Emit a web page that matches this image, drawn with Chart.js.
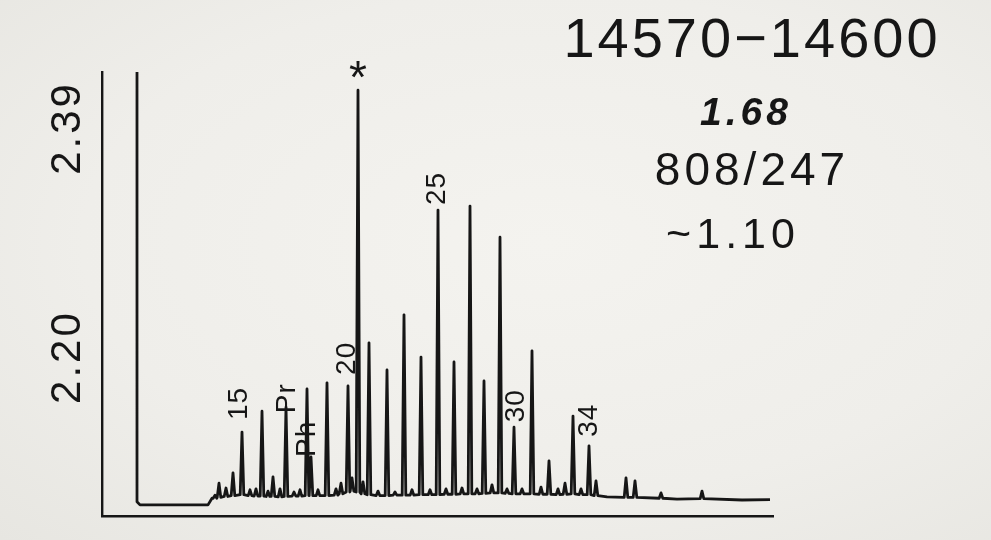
<!DOCTYPE html>
<html>
<head>
<meta charset="utf-8">
<script src="https://cdn.jsdelivr.net/npm/chart.js@4.4.1/dist/chart.umd.min.js"></script>
<style>
  html, body { margin: 0; padding: 0; }
  body {
    width: 991px; height: 540px; overflow: hidden;
    background: radial-gradient(ellipse at 55% 45%, #f4f3ef 0%, #efeeea 60%, #e7e6e1 100%);
  }
  canvas { display: block; }
</style>
</head>
<body>
<canvas id="chromatogram" width="991" height="540"></canvas>
<script>
// Peaks: retention position (chart units), apex and foot signal (0-100)
const peakTimes = [
  11.3, 11.7, 12.4, 13.1, 14.0, 14.8, 15.4, 16.0, 16.6, 17.1,
  17.8, 18.4, 19.2, 19.8, 20.5, 20.9, 21.6, 22.5, 23.4, 23.9,
  24.6, 25.0, 25.6, 26.1, 26.7, 27.6, 28.5, 29.3, 30.2, 31.0,
  31.9, 32.8, 33.6, 34.4, 35.2, 36.0, 36.8, 37.5, 38.2, 39.0,
  39.8, 40.5, 41.2, 42.0, 43.0, 43.9, 44.7, 45.6, 46.3, 47.1,
  47.9, 48.7, 49.4, 52.4, 53.3, 55.9, 60.0
];
const peakHeights = [
  4.7, 7.4, 6.3, 9.7, 18.9, 5.9, 6.1, 23.6, 5.6, 8.8,
  6.1, 24.5, 5.4, 5.9, 28.6, 13.3, 5.9, 30.0, 6.1, 7.4,
  29.3, 8.6, 95.9, 7.7, 39.0, 5.6, 32.9, 5.4, 45.3, 5.9,
  35.8, 5.9, 68.9, 6.1, 34.7, 6.3, 69.8, 6.1, 30.4, 7.0,
  62.8, 6.1, 20.0, 6.1, 37.2, 6.5, 12.4, 6.1, 7.4, 22.5,
  6.1, 15.8, 7.9, 8.6, 7.9, 5.2, 5.6
];
const peakFeet = [
  4.0, 4.2, 4.4, 4.6, 4.8, 4.6, 4.5, 4.5, 4.4, 4.4,
  4.3, 4.4, 4.5, 4.5, 4.6, 4.6, 4.6, 4.6, 4.7, 5.0,
  5.4, 5.6, 5.4, 5.0, 4.8, 4.6, 4.6, 4.7, 4.7, 4.7,
  4.8, 4.8, 4.8, 4.9, 4.9, 5.0, 5.0, 5.0, 5.1, 5.2,
  5.2, 5.1, 5.0, 5.0, 5.0, 4.9, 4.9, 4.8, 4.9, 5.0,
  4.8, 4.8, 4.6, 4.2, 4.2, 4.0, 3.9
];

// solvent front (runs off scale) and baseline stretches without peaks
const solventTime = 3.5;
const solventTop = 130;
const solventFoot = 3.2;
const baseTimes = [3.8, 10.6, 11.0, 50.5, 57.5, 64.0, 66.8];
const baseLevels = [2.5, 2.5, 4.0, 4.3, 3.8, 3.6, 3.7];

// peak annotations
const peakLabels = ['15', 'Pr', 'Ph', '20', '25', '30', '34'];
const labelTimes = [14.0, 18.4, 20.9, 24.6, 33.6, 41.2, 48.7];
const standardTime = 25.6; // internal standard, marked '*'

// attenuation marks on the left side
const sideTickLabels = ['2.39', '2.20'];
const sideTickValues = [87.4, 35.8];

// header block
const headerLines = ['14570\u221214600', '1.68', '808/247', '~1.10'];

const INK = '#161616';
const FONT = '"Liberation Sans", Arial, Helvetica, sans-serif';
const PEAK_HALF_WIDTH = 0.18;
const LABEL_NUDGE = { // [dx, gap above apex] in px
  '15': [-3, 12], 'Pr': [1, -6], 'Ph': [-4, 0], '20': [-1, 11],
  '25': [-1, 5], '30': [2, 5], '34': [0, 9]
};

// build the trace: each peak is a narrow spike from its foot to its apex
const trace = [{ x: solventTime, y: solventTop }, { x: solventTime, y: solventFoot }];
baseTimes.forEach((t, i) => trace.push({ x: t, y: baseLevels[i] }));
peakTimes.forEach((t, i) => {
  trace.push(
    { x: t - PEAK_HALF_WIDTH, y: peakFeet[i] },
    { x: t, y: peakHeights[i] },
    { x: t + PEAK_HALF_WIDTH, y: peakFeet[i] }
  );
});
trace.sort((a, b) => a.x - b.x);

const apexOf = t => peakHeights[peakTimes.indexOf(t)];

const annotations = {
  id: 'annotations',
  afterDatasetsDraw(chart) {
    const { ctx, scales: { x, y } } = chart;
    ctx.save();
    ctx.fillStyle = INK;

    // rotated peak labels
    ctx.font = '28px ' + FONT;
    ctx.letterSpacing = '1px';
    peakLabels.forEach((txt, i) => {
      const t = labelTimes[i];
      const [dx, gap] = LABEL_NUDGE[txt];
      ctx.save();
      ctx.translate(x.getPixelForValue(t) + dx, y.getPixelForValue(apexOf(t)) - gap);
      ctx.rotate(-Math.PI / 2);
      ctx.textAlign = 'left';
      ctx.textBaseline = 'middle';
      ctx.fillText(txt, 0, 0);
      ctx.restore();
    });

    // star over the internal standard
    ctx.font = '46px ' + FONT;
    ctx.letterSpacing = '0px';
    ctx.textAlign = 'center';
    ctx.textBaseline = 'alphabetic';
    ctx.fillText('*', x.getPixelForValue(standardTime), y.getPixelForValue(apexOf(standardTime)) + 3);

    // side marks, reading upwards
    ctx.font = '42px ' + FONT;
    ctx.letterSpacing = '3px';
    sideTickLabels.forEach((txt, i) => {
      ctx.save();
      ctx.translate(68, y.getPixelForValue(sideTickValues[i]));
      ctx.rotate(-Math.PI / 2);
      ctx.textAlign = 'center';
      ctx.textBaseline = 'middle';
      ctx.fillText(txt, 0, 0);
      ctx.restore();
    });

    // header
    ctx.textAlign = 'center';
    ctx.textBaseline = 'alphabetic';
    ctx.font = '56px ' + FONT; ctx.letterSpacing = '3px';
    ctx.fillText(headerLines[0], 752, 57);
    ctx.font = 'italic bold 39px ' + FONT; ctx.letterSpacing = '4px';
    ctx.fillText(headerLines[1], 746, 125);
    ctx.font = '46px ' + FONT; ctx.letterSpacing = '4px';
    ctx.fillText(headerLines[2], 752, 185);
    ctx.font = '43px ' + FONT; ctx.letterSpacing = '5px';
    ctx.fillText(headerLines[3], 733, 248);

    ctx.restore();
  }
};

new Chart(document.getElementById('chromatogram'), {
  type: 'line',
  data: {
    datasets: [{
      data: trace,
      borderColor: INK,
      borderWidth: 2.8,
      borderJoinStyle: 'round',
      pointRadius: 0,
      tension: 0,
      fill: false
    }]
  },
  options: {
    responsive: false,
    animation: false,
    layout: { padding: { left: 102, right: 218, top: 72, bottom: 24 } },
    plugins: { legend: { display: false }, tooltip: { enabled: false } },
    scales: {
      x: {
        type: 'linear', min: 0, max: 67.1,
        ticks: { display: false },
        grid: { display: false, drawTicks: false },
        border: { display: true, color: INK, width: 2.4 }
      },
      y: {
        min: 0, max: 100,
        ticks: { display: false },
        grid: { display: false, drawTicks: false },
        border: { display: true, color: INK, width: 2.4 }
      }
    }
  },
  plugins: [annotations]
});
</script>
</body>
</html>
